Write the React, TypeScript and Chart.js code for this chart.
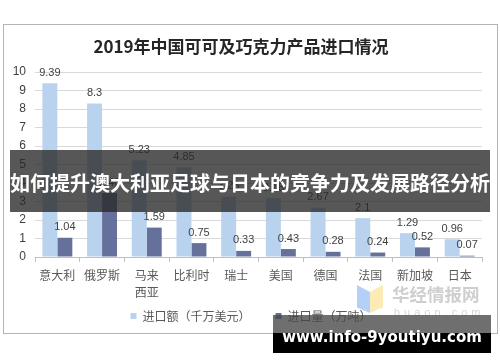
import React, { useEffect, useRef } from 'react';
import { Chart, registerables } from 'chart.js';

Chart.register(...registerables);

const chartTitle = '2019年中国可可及巧克力产品进口情况';
const categories: (string | string[])[] = ['意大利', '俄罗斯', ['马来', '西亚'], '比利时', '瑞士', '美国', '德国', '法国', '新加坡', '日本'];
const seriesNames = ['进口额（千万美元）', '进口量（万吨）'];
const importValue = [9.39, 8.3, 5.23, 4.85, 3.26, 3.18, 2.67, 2.1, 1.29, 0.96];
const importVolume = [1.04, 3.46, 1.59, 0.75, 0.33, 0.43, 0.28, 0.24, 0.52, 0.07];
const yMin = 0;
const yMax = 10;
const yStep = 1;
const bannerText = '如何提升澳大利亚足球与日本的竞争力及发展路径分析';
const watermarkText = 'www.info-9youtiyu.com';
const logoText = '华经情报网';
const logoSub = 'huaon.com';

const CJK = '"Noto Sans CJK SC", "Noto Sans", sans-serif';
const LAT = '"Liberation Sans", Arial, sans-serif';

const dataLabelPlugin = {
  id: 'dataLabels',
  afterDatasetsDraw(chart: any) {
    const ctx = chart.ctx;
    ctx.save();
    ctx.font = `11px ${LAT}`;
    ctx.fillStyle = '#404040';
    ctx.textAlign = 'center';
    ctx.textBaseline = 'bottom';
    chart.data.datasets.forEach((ds: any, i: number) => {
      const meta = chart.getDatasetMeta(i);
      meta.data.forEach((el: any, j: number) => {
        ctx.fillText(String(ds.data[j]), el.x, el.y - 5);
      });
    });
    ctx.restore();
  },
};

// legend drawn from the datasets' own labels and colours
const legendPlugin = {
  id: 'bottomLegend',
  afterDraw(chart: any) {
    const ctx = chart.ctx;
    const box = 6;
    const gapText = 6;
    const gapItem = 25;
    const cy = 316;
    ctx.save();
    ctx.font = `12px ${CJK}`;
    const items = chart.data.datasets.map((ds: any) => ({
      text: ds.label,
      color: ds.backgroundColor,
      w: box + gapText + ctx.measureText(ds.label).width,
    }));
    const total = items.reduce((a: number, it: any) => a + it.w, 0) + gapItem * (items.length - 1);
    let x = chart.width / 2 - total / 2 + 1;
    ctx.textBaseline = 'middle';
    ctx.textAlign = 'left';
    items.forEach((it: any) => {
      ctx.fillStyle = it.color;
      ctx.fillRect(x, cy - box / 2, box, box);
      ctx.fillStyle = '#595959';
      ctx.fillText(it.text, x + box + gapText, cy);
      x += it.w + gapItem;
    });
    ctx.restore();
  },
};

function ChartCanvas() {
  const ref = useRef<HTMLCanvasElement | null>(null);
  useEffect(() => {
    if (!ref.current) return;
    const chart = new Chart(ref.current, {
      type: 'bar',
      data: {
        labels: categories,
        datasets: [
          {
            label: seriesNames[0],
            data: importValue,
            backgroundColor: '#b9d3ef',
            categoryPercentage: 0.67,
            barPercentage: 1,
          },
          {
            label: seriesNames[1],
            data: importVolume,
            backgroundColor: '#65719b',
            categoryPercentage: 0.67,
            barPercentage: 1,
          },
        ],
      },
      options: {
        animation: false,
        responsive: false,
        maintainAspectRatio: false,
        layout: { padding: { left: 0, right: 18, top: 0, bottom: 55 } },
        plugins: {
          title: {
            display: true,
            text: chartTitle,
            color: '#262626',
            font: { size: 17, weight: 'bold', family: CJK, lineHeight: 1.2 },
            padding: { top: 36, bottom: 15.6 },
          },
          legend: { display: false },
          tooltip: { enabled: false },
        },
        scales: {
          x: {
            grid: { display: true, drawOnChartArea: false, drawTicks: true, tickLength: 5, color: '#bfbfbf', offset: true },
            border: { color: '#bfbfbf' },
            ticks: {
              color: '#595959',
              font: { size: 12, family: CJK, lineHeight: 1.4 },
              padding: 5,
              maxRotation: 0,
              autoSkip: false,
            },
            afterFit: (s: any) => {
              s.height = 50;
            },
          },
          y: {
            min: yMin,
            max: yMax,
            ticks: { stepSize: yStep, color: '#404040', font: { size: 12, family: LAT }, padding: 9 },
            grid: { color: '#d9d9d9', drawTicks: false },
            border: { display: false },
            afterFit: (s: any) => {
              s.width = 35;
            },
          },
        },
      },
      plugins: [dataLabelPlugin, legendPlugin],
    } as any);
    return () => chart.destroy();
  }, []);
  return <canvas ref={ref} width={500} height={362} style={{ position: 'absolute', left: 0, top: 0, width: 500, height: 362 }} />;
}

export default function App() {
  return (
    <div style={{ position: 'fixed', left: 0, top: 0, width: 500, height: 362, background: '#fff', overflow: 'hidden' }}>
      <div style={{ position: 'absolute', left: 3, top: 24, width: 493, height: 308, border: '1px solid #b4b4b4' }} />
      <ChartCanvas />
      {/* logo watermark */}
      <div style={{ position: 'absolute', left: 357, top: 285, width: 13, height: 28, background: 'rgba(120,170,240,0.55)', clipPath: 'polygon(0 0, 100% 25%, 100% 100%, 0 80%)' }} />
      <div style={{ position: 'absolute', left: 370, top: 285, width: 13, height: 28, background: 'rgba(250,222,130,0.6)', clipPath: 'polygon(0 25%, 100% 0, 100% 80%, 0 100%)' }} />
      <div style={{ position: 'absolute', left: 392, top: 283, width: 92, fontFamily: CJK, fontWeight: 'bold', fontSize: 17.5, lineHeight: '22px', color: '#cfcfcf', whiteSpace: 'nowrap' }}>{logoText}</div>
      <div style={{ position: 'absolute', left: 394, top: 305, width: 90, fontFamily: LAT, fontSize: 11, lineHeight: '14px', letterSpacing: 4, color: '#d6d6d6', whiteSpace: 'nowrap' }}>{logoSub}</div>
      {/* banner overlay */}
      <div style={{ position: 'absolute', left: 10, top: 150, width: 480, height: 62, background: 'rgba(40,40,40,0.78)', display: 'flex', alignItems: 'center', justifyContent: 'center' }}>
        <span style={{ fontFamily: CJK, fontWeight: 'bold', fontSize: 20, lineHeight: '24px', color: '#fff', whiteSpace: 'nowrap', marginTop: 4 }}>{bannerText}</span>
      </div>
      {/* bottom url watermark */}
      <div style={{ position: 'absolute', left: 273, top: 315, width: 218, height: 18, background: 'rgba(70,70,70,0.78)' }} />
      <div style={{ position: 'absolute', left: 273, top: 333, width: 218, height: 20, background: '#000' }} />
      <div style={{ position: 'absolute', left: 273, top: 325, width: 218, height: 24, display: 'flex', alignItems: 'center', justifyContent: 'center' }}>
        <span style={{ fontFamily: '"DejaVu Sans", sans-serif', fontWeight: 'bold', fontSize: 15, color: '#fff', whiteSpace: 'nowrap' }}>{watermarkText}</span>
      </div>
    </div>
  );
}
